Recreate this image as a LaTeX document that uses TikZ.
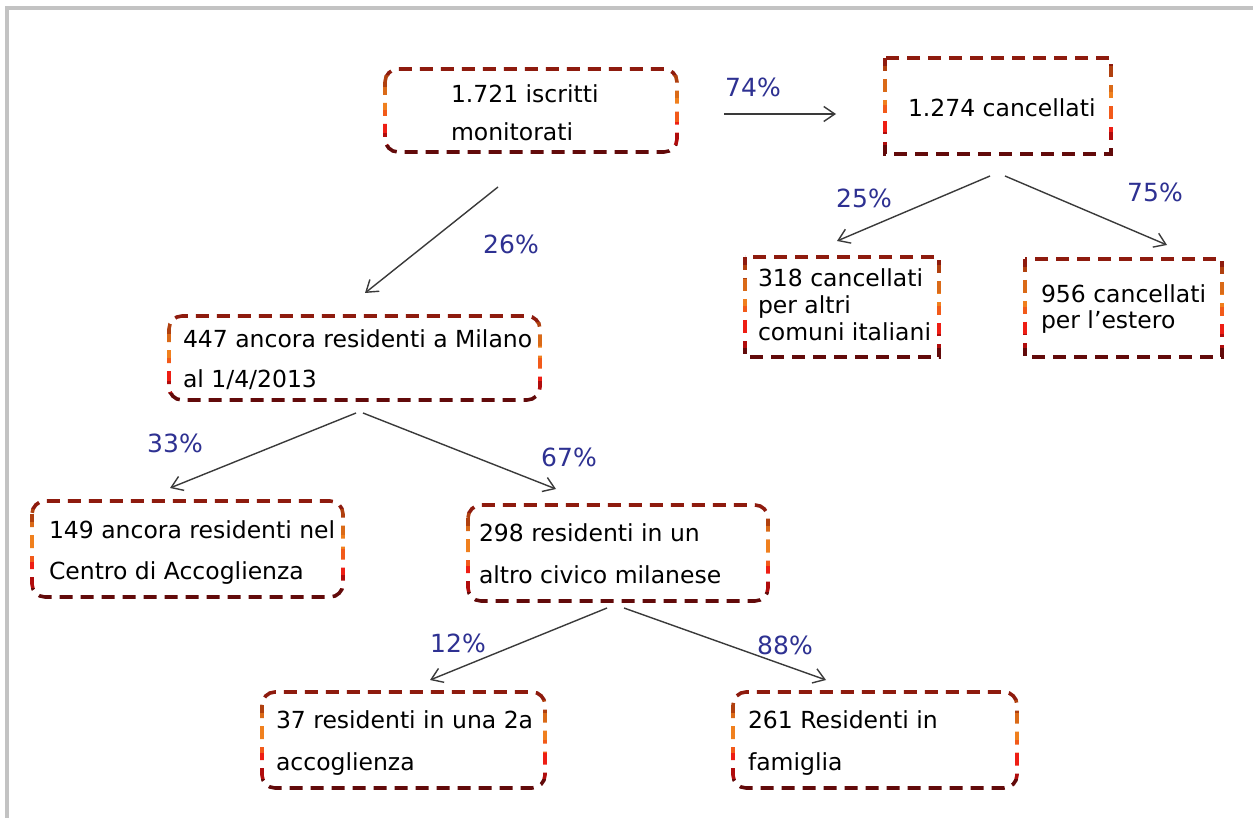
\documentclass[tikz,border=0pt]{standalone}
\usepackage{fontspec}
\setmainfont{DejaVu Sans}
\usetikzlibrary{arrows.meta,calc}
\definecolor{gb0}{HTML}{8E1B0E}
\definecolor{gb1}{HTML}{B0400F}
\definecolor{gb2}{HTML}{DA6A18}
\definecolor{gb3}{HTML}{F0801E}
\definecolor{gb4}{HTML}{F25A1A}
\definecolor{gb5}{HTML}{EE1E14}
\definecolor{gb6}{HTML}{B00C0C}
\definecolor{gb7}{HTML}{620A0A}
\definecolor{lblblue}{HTML}{2E3192}
\definecolor{arrgray}{HTML}{3A3A3A}
\definecolor{framegray}{HTML}{C3C3C3}
\tikzset{
  boxshape/.style={rectangle, draw=none, inner sep=0pt, outer sep=0pt},
  boxline/.style={line width=3.6pt, dash pattern=on 13pt off 8pt},
  txt/.style={inner sep=0pt, outer sep=0pt, anchor=west, align=left, font=\fontsize{23.5}{#1}\selectfont},
  pct/.style={text=lblblue, font=\fontsize{25}{25}\selectfont, inner sep=0pt},
  arr/.style={draw=arrgray, line width=1.4pt, -{Straight Barb[length=11pt,width=15pt]}},
  frameline/.style={draw=framegray, line width=4pt},
  roundbox/.style={rounded corners=13pt},
  squarebox/.style={sharp corners}
}
\newcommand\gradborder[2]{%
  \foreach \k/\col in {0/gb0,1/gb1,2/gb2,3/gb3,4/gb4,5/gb5,6/gb6,7/gb7}{%
    \begin{scope}
      \clip let \p1=(#1.north west), \p2=(#1.south east), \n1={(\y1-\y2+10pt)/8} in
        ({\x1-10pt},{\y1+5pt-\k*\n1}) rectangle ({\x2+10pt},{\y1+5pt-(\k+1)*\n1});
      \draw[boxline, draw=\col, #2] (#1.north west) rectangle (#1.south east);
    \end{scope}
  }%
}
\begin{document}
\begin{tikzpicture}[x=1pt, y=-1pt]
\useasboundingbox (0,0) rectangle (1253,818);
\fill[white] (0,0) rectangle (1253,818);

% boxes
\node[boxshape, minimum width=292pt, minimum height=83pt] (b1) at (531,110.5) {};
\node[boxshape, minimum width=226pt, minimum height=96pt] (b2) at (998,106) {};
\node[boxshape, minimum width=194pt, minimum height=100pt] (b3) at (842,307) {};
\node[boxshape, minimum width=197pt, minimum height=98pt] (b4) at (1123.5,308) {};
\node[boxshape, minimum width=371pt, minimum height=84pt] (b5) at (354.5,358) {};
\node[boxshape, minimum width=311pt, minimum height=96pt] (b6) at (187.5,549) {};
\node[boxshape, minimum width=300pt, minimum height=96pt] (b7) at (618,553) {};
\node[boxshape, minimum width=283pt, minimum height=96pt] (b8) at (403.5,740) {};
\node[boxshape, minimum width=284pt, minimum height=96pt] (b9) at (875,740) {};

\gradborder{b1}{roundbox}
\gradborder{b2}{squarebox}
\gradborder{b3}{squarebox}
\gradborder{b4}{squarebox}
\gradborder{b5}{roundbox}
\gradborder{b6}{roundbox}
\gradborder{b7}{roundbox}
\gradborder{b8}{roundbox}
\gradborder{b9}{roundbox}

% texts
\node[txt=38] (t1) at (451,113) {1.721 iscritti\\monitorati};
\node[txt=38] (t2) at (908,108) {1.274 cancellati};
\node[txt=27] (t3) at (758,305) {318 cancellati\\per altri\\comuni italiani};
\node[txt=26] (t4) at (1041,309) {956 cancellati\\per l'estero};
\node[txt=40] (t5) at (183,360) {447 ancora residenti a Milano\\al 1/4/2013};
\node[txt=41] (t6) at (49,553) {149 ancora residenti nel\\Centro di Accoglienza};
\node[txt=42] (t7) at (479,554) {298 residenti in un\\altro civico milanese};
\node[txt=42] (t8) at (276,743) {37 residenti in una 2a\\accoglienza};
\node[txt=42] (t9) at (748,743) {261 Residenti in\\famiglia};

% connector end points
\coordinate (a1s) at (724,114);  \coordinate (a1e) at (836,114);
\coordinate (a2s) at (498,187);  \coordinate (a2e) at (365,293);
\coordinate (a3s) at (990,176);  \coordinate (a3e) at (837,241);
\coordinate (a4s) at (1005,176); \coordinate (a4e) at (1167,245);
\coordinate (a5s) at (356,413);  \coordinate (a5e) at (170,488);
\coordinate (a6s) at (363,413);  \coordinate (a6e) at (556,489);
\coordinate (a7s) at (607,608);  \coordinate (a7e) at (430,680);
\coordinate (a8s) at (624,608);  \coordinate (a8e) at (826,680);

\draw[arr] (a1s) -- (a1e);
\draw[arr] (a2s) -- (a2e);
\draw[arr] (a3s) -- (a3e);
\draw[arr] (a4s) -- (a4e);
\draw[arr] (a5s) -- (a5e);
\draw[arr] (a6s) -- (a6e);
\draw[arr] (a7s) -- (a7e);
\draw[arr] (a8s) -- (a8e);

% percentage labels
\node[pct] (p1) at (753,87) {74\%};
\node[pct] (p2) at (511,244) {26\%};
\node[pct] (p3) at (864,198) {25\%};
\node[pct] (p4) at (1155,192) {75\%};
\node[pct] (p5) at (175,443) {33\%};
\node[pct] (p6) at (569,457) {67\%};
\node[pct] (p7) at (458,643) {12\%};
\node[pct] (p8) at (785,645) {88\%};

% frame
\draw[frameline] (7,818) -- (7,8) -- (1253,8);
\end{tikzpicture}
\end{document}
